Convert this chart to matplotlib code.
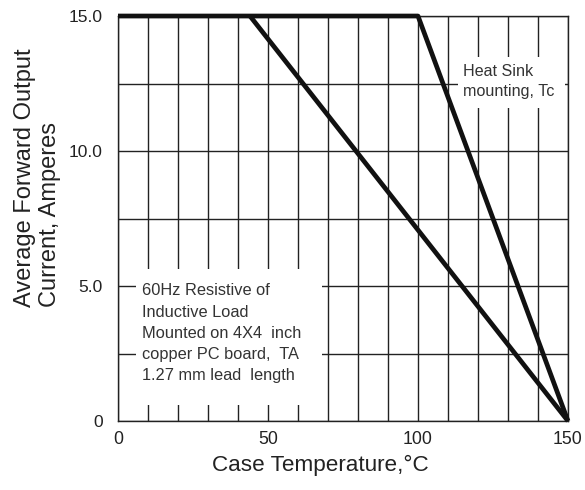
#!/usr/bin/env python3
"""Output current derating curve (forward current vs case temperature)."""

import matplotlib

matplotlib.use("Agg")
import matplotlib.pyplot as plt
from matplotlib.patches import Rectangle

FONT = ["Liberation Sans", "DejaVu Sans"]

# heat sink mounting curve (Tc)
heatsink_temp = [0, 100, 150]
heatsink_current = [15.0, 15.0, 0.0]

# PC board mounting curve (TA)
board_temp = [44, 150]
board_current = [15.0, 0.0]

x_ticks = [0, 50, 100, 150]
x_tick_labels = ["0", "50", "100", "150"]
y_ticks = [0, 5, 10, 15]
y_tick_labels = ["0", "5.0", "10.0", "15.0"]
x_grid = [10, 20, 30, 40, 60, 70, 80, 90, 110, 120, 130, 140]
y_grid = [2.5, 7.5, 12.5]

board_note = "60Hz Resistive of\nInductive Load\nMounted on 4X4  inch\ncopper PC board,  TA\n1.27 mm lead  length"
heatsink_note = "Heat Sink\nmounting, Tc"


def main() -> None:
    plt.rcParams["font.family"] = FONT
    fig = plt.figure(figsize=(5.85, 4.9), dpi=100)
    ax = fig.add_axes([0.2017, 0.1408, 0.7692, 0.8265])

    ax.set_xlim(0, 150)
    ax.set_ylim(0, 15)
    ax.set_xticks(x_ticks)
    ax.set_xticklabels(x_tick_labels)
    ax.set_yticks(y_ticks)
    ax.set_yticklabels(y_tick_labels)
    ax.set_xticks(x_grid, minor=True)
    ax.set_yticks(y_grid, minor=True)
    ax.tick_params(which="both", length=0)
    ax.tick_params(axis="x", pad=7, labelsize=12.8, colors="#222222")
    ax.tick_params(axis="y", pad=11, labelsize=12.5, colors="#222222")
    ax.set_axisbelow(True)
    ax.grid(True, which="both", color="#222222", linewidth=1.0)
    for spine in ax.spines.values():
        spine.set_color("#222222")
        spine.set_linewidth(1.0)

    # white note boxes knock out the grid behind the text
    ax.add_patch(Rectangle((6, 0.6), 62, 5.03, facecolor="white", edgecolor="none", zorder=1))
    ax.add_patch(Rectangle((113.3, 11.6), 35.7, 1.88, facecolor="white", edgecolor="none", zorder=1))

    ax.plot(heatsink_temp, heatsink_current, color="#111111", linewidth=3.4,
            solid_capstyle="butt", clip_on=False, zorder=3)
    ax.plot(board_temp, board_current, color="#111111", linewidth=3.4,
            solid_capstyle="butt", clip_on=False, zorder=3)

    ax.text(8, 5.1, board_note, fontsize=11.8, color="#333333", va="top", ha="left",
            linespacing=1.52, zorder=4)
    ax.text(115, 13.22, heatsink_note, fontsize=11.6, color="#333333", va="top", ha="left",
            linespacing=1.4, zorder=4)

    ax.text(-0.179, 0.602, "Average Forward Output\nCurrent, Amperes", transform=ax.transAxes,
            rotation=90, ha="center", va="center", multialignment="left",
            fontsize=17, color="#222222", linespacing=1.15)
    ax.set_xlabel("Case Temperature,°C", fontsize=16.2, color="#222222")
    ax.xaxis.set_label_coords(0.449, -0.083)

    fig.savefig("out.png", dpi=100)
    plt.close(fig)


if __name__ == "__main__":
    main()
